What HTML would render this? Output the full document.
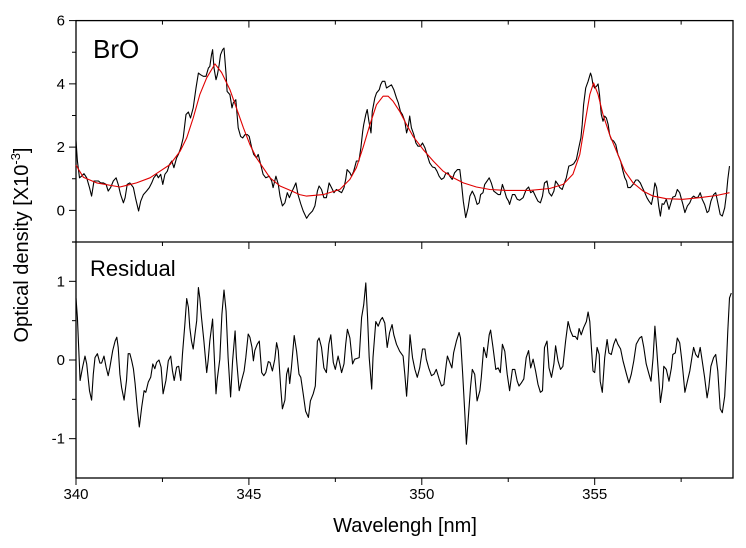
<!DOCTYPE html>
<html><head><meta charset="utf-8"><style>
html,body{margin:0;padding:0;background:#fff;}
svg{display:block;font-family:"Liberation Sans",Arial,sans-serif;}
</style></head><body>
<svg id="chart" width="746" height="548" viewBox="0 0 746 548" xmlns="http://www.w3.org/2000/svg">
<g id="axes"></g>
<g id="marks"></g>
<text x="93" y="58" font-size="26">BrO</text>
<text x="90" y="276" font-size="22">Residual</text>
<text x="405" y="532" font-size="20" text-anchor="middle">Wavelengh [nm]</text>
<text transform="translate(28,245) rotate(-90)" font-size="20" text-anchor="middle">Optical density [X10<tspan font-size="13" dy="-8">-3</tspan><tspan dy="8">]</tspan></text>
</svg>
<script>
const xTicksMajor = [340, 345, 350, 355];
const xTicksMinor = [342.5, 347.5, 352.5, 357.5];
const topYTicks = [6, 4, 2, 0];
const topYMinor = [5, 3, 1, -1];
const botYTicks = [1, 0, -1];
const botYMinor = [0.5, -0.5];

const fitPoints = [[340.0,1.43],[340.21,1.05],[340.60,0.87],[341.27,0.74],[341.75,0.87],[342.14,1.03],[342.43,1.24],[342.72,1.45],[343.01,1.87],[343.20,2.29],[343.39,2.92],[343.58,3.66],[343.78,4.19],[344.02,4.63],[344.21,4.36],[344.45,3.82],[344.64,3.24],[344.84,2.61],[345.03,2.08],[345.22,1.66],[345.41,1.35],[345.61,1.03],[345.90,0.77],[346.18,0.64],[346.47,0.5],[346.67,0.45],[347.15,0.5],[347.63,0.66],[347.92,0.98],[348.11,1.35],[348.30,1.98],[348.50,2.71],[348.69,3.34],[348.88,3.61],[349.03,3.61],[349.17,3.45],[349.36,3.13],[349.56,2.71],[349.75,2.34],[350.04,1.92],[350.33,1.56],[350.62,1.24],[350.91,1.03],[351.20,0.87],[351.58,0.74],[351.97,0.66],[352.45,0.63],[352.83,0.63],[353.12,0.63],[353.70,0.69],[354.09,0.82],[354.37,1.14],[354.57,1.77],[354.71,2.71],[354.86,3.66],[354.97,4.03],[355.10,3.66],[355.24,3.03],[355.43,2.4],[355.63,1.87],[355.87,1.24],[356.11,0.87],[356.40,0.61],[356.69,0.45],[357.07,0.37],[357.55,0.35],[358.03,0.4],[358.52,0.47],[358.90,0.56]];

const dataPoints = [[340.00,2.21],[340.04,1.56],[340.10,1.03],[340.16,1.08],[340.23,1.16],[340.31,1.03],[340.39,0.72],[340.45,0.45],[340.52,0.93],[340.58,0.93],[340.65,0.93],[340.71,0.87],[340.79,0.87],[340.87,0.82],[340.93,0.61],[341.00,0.72],[341.08,0.93],[341.16,1.03],[341.22,0.82],[341.29,0.5],[341.37,0.24],[341.42,0.4],[341.48,0.82],[341.56,0.87],[341.66,0.72],[341.73,0.35],[341.81,-0.02],[341.87,0.29],[341.95,0.5],[342.04,0.61],[342.12,0.72],[342.19,0.87],[342.25,1.03],[342.33,1.14],[342.38,1.03],[342.45,1.14],[342.51,0.82],[342.57,1.14],[342.64,1.24],[342.70,1.45],[342.77,1.56],[342.83,1.35],[342.91,1.66],[342.96,1.77],[343.03,1.98],[343.10,2.29],[343.18,3.03],[343.25,3.11],[343.31,2.92],[343.39,3.24],[343.47,3.87],[343.54,4.34],[343.60,4.29],[343.68,4.24],[343.76,4.24],[343.83,4.5],[343.87,4.55],[343.92,4.92],[343.95,5.08],[343.99,4.5],[344.05,4.13],[344.09,4.29],[344.14,4.61],[344.18,4.92],[344.24,5.08],[344.28,5.13],[344.34,4.29],[344.37,3.76],[344.45,3.66],[344.51,3.24],[344.55,3.4],[344.62,3.5],[344.69,2.61],[344.76,2.34],[344.82,2.29],[344.89,2.4],[344.95,2.4],[345.01,2.34],[345.08,1.98],[345.14,1.77],[345.22,1.66],[345.27,1.77],[345.34,1.45],[345.41,1.14],[345.49,1.03],[345.59,1.08],[345.66,0.93],[345.70,0.72],[345.78,1.08],[345.85,0.82],[345.90,0.45],[345.97,0.14],[346.04,0.24],[346.11,0.56],[346.17,0.4],[346.23,0.56],[346.30,0.72],[346.36,0.87],[346.42,0.5],[346.50,0.2],[346.57,-0.02],[346.67,-0.25],[346.74,-0.13],[346.84,-0.02],[346.91,0.14],[346.98,0.61],[347.03,0.77],[347.10,0.66],[347.17,0.4],[347.24,0.4],[347.32,0.87],[347.39,0.72],[347.46,0.56],[347.53,0.66],[347.61,0.61],[347.68,0.56],[347.75,0.72],[347.80,0.98],[347.84,1.29],[347.92,1.19],[347.97,1.08],[348.03,1.24],[348.11,1.56],[348.18,1.56],[348.24,1.98],[348.29,2.5],[348.32,2.71],[348.38,3.03],[348.42,3.19],[348.47,2.82],[348.53,2.45],[348.57,3.13],[348.64,3.55],[348.69,3.71],[348.77,3.82],[348.81,3.97],[348.86,4.08],[348.93,4.08],[348.98,3.87],[349.05,3.92],[349.12,3.97],[349.19,3.82],[349.27,3.55],[349.32,3.4],[349.38,3.13],[349.44,3.03],[349.51,2.82],[349.56,2.45],[349.60,2.61],[349.65,2.98],[349.70,2.61],[349.77,2.4],[349.83,2.13],[349.89,2.03],[349.96,2.03],[350.02,2.13],[350.09,1.98],[350.15,1.77],[350.23,1.5],[350.31,1.37],[350.38,1.35],[350.44,1.24],[350.50,1.08],[350.57,0.98],[350.64,1.03],[350.69,1.16],[350.76,1.19],[350.81,1.08],[350.88,0.98],[350.95,1.19],[351.03,1.29],[351.10,1.29],[351.15,0.82],[351.20,0.29],[351.27,-0.23],[351.34,0.08],[351.39,0.45],[351.46,0.61],[351.53,0.45],[351.60,0.19],[351.66,0.24],[351.70,0.5],[351.77,0.56],[351.82,0.82],[351.89,0.93],[351.95,1.03],[352.01,0.87],[352.08,0.61],[352.14,0.56],[352.21,0.5],[352.27,0.5],[352.33,0.82],[352.38,0.66],[352.45,0.4],[352.51,0.29],[352.54,0.19],[352.62,0.5],[352.69,0.5],[352.76,0.35],[352.83,0.32],[352.93,0.4],[353.02,0.66],[353.09,0.74],[353.15,0.56],[353.22,0.61],[353.30,0.42],[353.36,0.29],[353.43,0.24],[353.49,0.45],[353.55,0.87],[353.62,0.93],[353.68,0.56],[353.75,0.45],[353.82,0.61],[353.87,0.93],[353.94,0.82],[353.99,0.72],[354.06,0.66],[354.11,0.82],[354.18,1.03],[354.25,1.4],[354.33,1.43],[354.39,1.47],[354.47,1.61],[354.54,1.98],[354.60,2.29],[354.64,2.71],[354.68,3.34],[354.74,3.87],[354.81,4.08],[354.88,4.34],[354.91,4.24],[354.95,3.97],[355.00,3.87],[355.05,3.92],[355.10,4.0],[355.14,3.66],[355.19,3.03],[355.24,2.82],[355.29,2.98],[355.34,2.92],[355.39,2.71],[355.43,2.4],[355.48,2.24],[355.55,2.19],[355.61,2.08],[355.67,1.77],[355.75,1.56],[355.82,1.24],[355.87,1.03],[355.92,0.93],[355.96,0.72],[356.03,0.72],[356.11,0.82],[356.19,0.96],[356.25,0.96],[356.32,0.87],[356.38,0.72],[356.45,0.56],[356.51,0.4],[356.57,0.29],[356.64,0.19],[356.69,0.45],[356.74,0.87],[356.79,0.72],[356.85,0.14],[356.90,-0.18],[356.95,0.21],[357.00,0.19],[357.07,0.35],[357.15,0.03],[357.22,0.29],[357.26,0.42],[357.33,0.45],[357.39,0.66],[357.46,0.56],[357.51,0.35],[357.55,0.19],[357.61,-0.07],[357.68,0.14],[357.75,0.24],[357.81,0.4],[357.86,0.45],[357.92,0.4],[357.99,0.42],[358.05,0.56],[358.11,0.35],[358.18,0.19],[358.25,-0.07],[358.30,-0.02],[358.36,0.29],[358.44,0.5],[358.50,0.56],[358.56,0.24],[358.63,-0.13],[358.69,-0.18],[358.76,0.08],[358.81,0.5],[358.85,0.98],[358.90,1.4]];

const residualPoints = [[340.00,0.79],[340.04,0.54],[340.07,0.24],[340.12,-0.26],[340.19,-0.09],[340.26,0.05],[340.31,-0.05],[340.39,-0.39],[340.45,-0.51],[340.50,-0.18],[340.55,0.03],[340.62,0.08],[340.69,-0.04],[340.74,-0.04],[340.81,0.05],[340.87,-0.09],[340.93,-0.2],[340.98,-0.09],[341.06,0.12],[341.13,0.24],[341.18,0.29],[341.22,0.16],[341.27,-0.18],[341.32,-0.35],[341.39,-0.51],[341.46,-0.26],[341.51,0.08],[341.56,0.08],[341.61,-0.01],[341.66,-0.11],[341.71,-0.3],[341.77,-0.6],[341.83,-0.85],[341.90,-0.6],[341.97,-0.39],[342.02,-0.41],[342.09,-0.28],[342.16,-0.22],[342.22,-0.05],[342.28,-0.11],[342.33,-0.03],[342.40,0],[342.46,-0.09],[342.52,-0.43],[342.60,-0.26],[342.67,-0.01],[342.74,0.05],[342.79,-0.14],[342.84,-0.26],[342.91,-0.09],[342.97,-0.08],[343.03,-0.26],[343.08,0.08],[343.15,0.46],[343.20,0.78],[343.25,0.67],[343.29,0.41],[343.34,0.24],[343.39,0.14],[343.44,0.33],[343.49,0.5],[343.54,0.92],[343.58,0.79],[343.63,0.54],[343.70,0.24],[343.78,-0.16],[343.82,-0.01],[343.87,0.24],[343.92,0.41],[343.95,0.52],[343.99,0.12],[344.05,-0.43],[344.08,-0.26],[344.16,0.01],[344.22,0.58],[344.28,0.89],[344.34,0.62],[344.40,0.03],[344.47,-0.47],[344.53,-0.01],[344.60,0.37],[344.64,0.03],[344.72,-0.39],[344.79,-0.26],[344.86,-0.14],[344.91,0.03],[344.98,0.33],[345.03,0.29],[345.09,0.16],[345.13,-0.01],[345.17,0.12],[345.24,0.2],[345.30,0.24],[345.37,-0.16],[345.43,-0.2],[345.49,-0.16],[345.56,-0.02],[345.61,-0.03],[345.68,-0.14],[345.75,0.01],[345.80,0.22],[345.85,0.12],[345.92,-0.35],[345.97,-0.62],[346.04,-0.51],[346.09,-0.18],[346.14,-0.1],[346.18,-0.3],[346.23,-0.1],[346.31,0.31],[346.38,0.11],[346.45,-0.18],[346.50,-0.22],[346.57,-0.43],[346.64,-0.65],[346.72,-0.73],[346.78,-0.52],[346.86,-0.43],[346.92,-0.33],[346.98,0.24],[347.03,0.28],[347.10,0.16],[347.17,-0.1],[347.24,-0.16],[347.31,0.2],[347.37,0.32],[347.44,-0.03],[347.50,-0.12],[347.58,0.05],[347.63,-0.05],[347.68,-0.16],[347.75,-0.05],[347.80,0.2],[347.85,0.39],[347.92,0.28],[348.00,-0.05],[348.06,0.01],[348.13,0.02],[348.19,0.03],[348.26,0.54],[348.32,0.7],[348.38,0.98],[348.43,0.56],[348.48,0.03],[348.55,-0.37],[348.59,0.03],[348.67,0.49],[348.74,0.43],[348.81,0.51],[348.86,0.54],[348.93,0.47],[349.00,0.16],[349.07,0.35],[349.14,0.45],[349.19,0.32],[349.27,0.2],[349.36,0.11],[349.46,0.05],[349.51,-0.18],[349.56,-0.46],[349.61,-0.14],[349.66,0.32],[349.73,0.03],[349.80,-0.12],[349.87,-0.22],[349.94,-0.1],[350.02,0.14],[350.09,0.14],[350.13,0.01],[350.20,-0.1],[350.28,-0.2],[350.35,-0.18],[350.42,-0.12],[350.50,-0.24],[350.57,-0.33],[350.64,-0.31],[350.71,-0.05],[350.74,0.05],[350.81,-0.03],[350.87,-0.1],[350.92,0.09],[351.00,0.24],[351.08,0.35],[351.12,0.28],[351.18,-0.16],[351.24,-0.65],[351.29,-1.07],[351.34,-0.77],[351.41,-0.35],[351.46,-0.12],[351.53,-0.18],[351.60,-0.52],[351.68,-0.39],[351.72,-0.22],[351.79,0.16],[351.87,0.03],[351.95,0.32],[351.99,0.38],[352.06,0.16],[352.14,-0.12],[352.21,-0.1],[352.27,-0.16],[352.33,0.2],[352.40,0.11],[352.47,-0.18],[352.54,-0.39],[352.62,-0.12],[352.69,-0.12],[352.76,-0.27],[352.81,-0.33],[352.88,-0.29],[352.95,-0.24],[353.02,0.03],[353.09,0.12],[353.15,-0.1],[353.22,0.01],[353.29,-0.14],[353.36,-0.31],[353.43,-0.41],[353.49,-0.39],[353.55,0.16],[353.62,0.24],[353.68,-0.1],[353.75,-0.22],[353.82,-0.05],[353.87,0.18],[353.94,-0.01],[354.01,-0.12],[354.08,-0.08],[354.16,0.24],[354.23,0.49],[354.30,0.37],[354.37,0.3],[354.44,0.3],[354.50,0.26],[354.55,0.4],[354.61,0.32],[354.68,0.41],[354.76,0.49],[354.81,0.61],[354.86,0.49],[354.90,0.2],[354.95,-0.14],[355.00,-0.16],[355.07,0.16],[355.13,0.07],[355.16,-0.27],[355.22,-0.41],[355.29,0.03],[355.36,0.26],[355.41,0.09],[355.48,0.07],[355.55,0.2],[355.61,0.27],[355.67,0.2],[355.75,0.14],[355.82,-0.01],[355.92,-0.18],[355.99,-0.29],[356.06,-0.18],[356.13,-0.01],[356.20,0.2],[356.30,0.28],[356.36,0.3],[356.42,0.16],[356.49,-0.05],[356.57,-0.18],[356.63,-0.27],[356.69,0.03],[356.74,0.43],[356.79,0.16],[356.85,-0.22],[356.90,-0.54],[356.96,-0.35],[357.00,-0.08],[357.07,-0.12],[357.15,-0.27],[357.22,-0.1],[357.26,0.07],[357.33,0.09],[357.39,0.28],[357.46,0.22],[357.51,0.03],[357.55,-0.14],[357.61,-0.41],[357.68,-0.27],[357.75,-0.14],[357.81,0.03],[357.86,0.16],[357.92,0.07],[357.99,0.03],[358.05,0.16],[358.11,-0.01],[358.18,-0.22],[358.25,-0.48],[358.30,-0.35],[358.36,-0.08],[358.44,0.03],[358.50,0.07],[358.56,-0.14],[358.63,-0.62],[358.69,-0.67],[358.76,-0.46],[358.81,-0.05],[358.85,0.37],[358.90,0.79],[358.95,0.85]];

const NS = 'http://www.w3.org/2000/svg';
const X0 = 76, X1 = 733, XMIN = 340, XMAX = 359;
const TOP_Y0 = 20.6, TOP_Y1 = 242, TOP_MIN = -1, TOP_MAX = 6;
const BOT_Y0 = 242, BOT_Y1 = 478, BOT_MIN = -1.5, BOT_MAX = 1.5;
function xs(v){ return X0 + (v - XMIN) / (XMAX - XMIN) * (X1 - X0); }
function ysTop(v){ return TOP_Y1 - (v - TOP_MIN) / (TOP_MAX - TOP_MIN) * (TOP_Y1 - TOP_Y0); }
function ysBot(v){ return BOT_Y1 - (v - BOT_MIN) / (BOT_MAX - BOT_MIN) * (BOT_Y1 - BOT_Y0); }

const axes = document.getElementById('axes');
const marks = document.getElementById('marks');
function mk(tag, attrs, parent){
  const e = document.createElementNS(NS, tag);
  for (const k in attrs) e.setAttribute(k, attrs[k]);
  parent.appendChild(e);
  return e;
}

// frame
let frame = mk('rect', {x:X0, y:TOP_Y0, width:X1-X0, height:BOT_Y1-TOP_Y0, fill:'none', stroke:'#000', 'stroke-width':1.3}, axes);


let divider = mk('line', {x1:X0-4, x2:X1, y1:BOT_Y0, y2:BOT_Y0, stroke:'#000', 'stroke-width':1.3}, axes);



// x ticks
xTicksMajor.concat(xTicksMinor).forEach(function(v){
  const x = xs(v);
  const major = xTicksMajor.indexOf(v) >= 0;
  const len = major ? 7 : 4;
  let t = mk('line', {x1:x, x2:x, y1:BOT_Y1, y2:BOT_Y1+len, stroke:'#000', 'stroke-width':1}, axes);
  
  
  [TOP_Y0, BOT_Y0].forEach(function(yy){
    let ti = mk('line', {x1:x, x2:x, y1:yy, y2:yy+len, stroke:'#000', 'stroke-width':1}, axes);
    
    
  });
  if (major) {
    let lb = mk('text', {x:x, y:499, 'font-size':15, 'text-anchor':'middle'}, axes);
    lb.textContent = String(v);
    
    
  }
});

// top y ticks
topYTicks.concat(topYMinor).forEach(function(v){
  const y = ysTop(v);
  const major = topYTicks.indexOf(v) >= 0;
  let t = mk('line', {x1:X0-(major?7:4), x2:X0, y1:y, y2:y, stroke:'#000', 'stroke-width':1}, axes);
  
  
  if (major) {
    let lb = mk('text', {x:65, y:y+5, 'font-size':15, 'text-anchor':'end'}, axes);
    lb.textContent = String(v);
    
    
  }
});
// bottom y ticks
botYTicks.concat(botYMinor).forEach(function(v){
  const y = ysBot(v);
  const major = botYTicks.indexOf(v) >= 0;
  let t = mk('line', {x1:X0-(major?7:4), x2:X0, y1:y, y2:y, stroke:'#000', 'stroke-width':1}, axes);
  
  
  if (major) {
    let lb = mk('text', {x:65, y:y+5, 'font-size':15, 'text-anchor':'end'}, axes);
    lb.textContent = String(v);
    
    
  }
});

function pathFrom(points, yfn){
  return points.map(function(p, i){ return (i ? 'L' : 'M') + xs(p[0]).toFixed(1) + ',' + yfn(p[1]).toFixed(1); }).join('');
}
let dataLine = mk('path', {d:pathFrom(dataPoints, ysTop), fill:'none', stroke:'#000', 'stroke-width':1.1, 'stroke-linejoin':'round'}, marks);


let fitLine = mk('path', {d:pathFrom(fitPoints, ysTop), fill:'none', stroke:'#e00000', 'stroke-width':1.1, 'stroke-linejoin':'round'}, marks);


let resLine = mk('path', {d:pathFrom(residualPoints, ysBot), fill:'none', stroke:'#000', 'stroke-width':1.1, 'stroke-linejoin':'round'}, marks);


</script>
</body></html>
